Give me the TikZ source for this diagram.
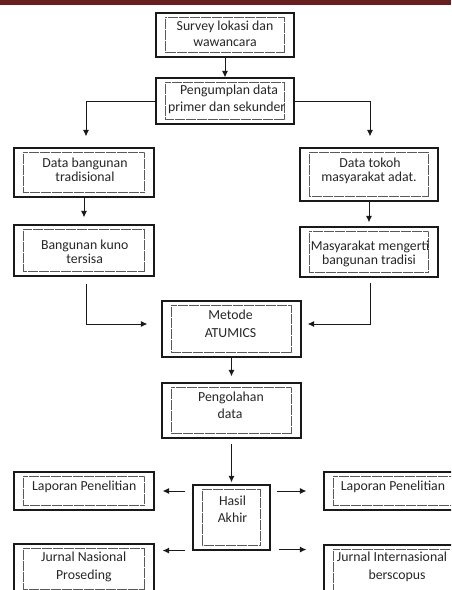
\documentclass[tikz,border=0pt]{standalone}
\usepackage{fontspec}
\setmainfont{Carlito}
\usetikzlibrary{arrows.meta}
\definecolor{band}{RGB}{106,30,30}
\newcommand{\dotin}[1]{\draw[dotbox] ([shift={(10,5)}]#1.north west) rectangle ([shift={(-10,-5)}]#1.south east);}
\begin{document}
\begin{tikzpicture}[x=1pt,y=-1pt,
  box/.style={draw=black!90, line width=1.1pt, rectangle, inner sep=0pt},
  dotbox/.style={draw=black!65, line width=0.55pt, dash pattern=on 0.5pt off 0.6pt},
  txt/.style={anchor=base, inner sep=0pt, font=\fontsize{13.8}{16}\selectfont, text=black!85},
  arr/.style={draw=black!90, line width=1pt, -{Latex[length=6.5pt,width=6pt]}}]
\useasboundingbox (0,0) rectangle (451,590);
\clip (0,0) rectangle (451,590);
\fill[band] (0,0) rectangle (451,5);
% boxes
\node[box, minimum width=138pt, minimum height=44pt] (b1) at (225,35) {};
\node[box, minimum width=138pt, minimum height=46pt] (b2) at (225,101) {};
\node[box, minimum width=140pt, minimum height=49pt] (b3) at (84,172.5) {};
\node[box, minimum width=138pt, minimum height=53pt] (b4) at (369,174.5) {};
\node[box, minimum width=140pt, minimum height=51pt] (b5) at (84,250.5) {};
\node[box, minimum width=138pt, minimum height=50pt] (b6) at (369,252) {};
\node[box, minimum width=139pt, minimum height=56pt] (b7) at (231.5,329) {};
\node[box, minimum width=139pt, minimum height=55pt] (b8) at (231.5,410.5) {};
\node[box, minimum width=77pt, minimum height=65pt] (b9) at (231.5,517.5) {};
\node[box, minimum width=140pt, minimum height=38pt] (b10) at (84,491) {};
\node[box, minimum width=140pt, minimum height=38pt] (b11) at (394,491) {};
\node[box, minimum width=140pt, minimum height=50pt] (b12) at (84,569) {};
\node[box, minimum width=140pt, minimum height=50pt] (b13) at (394,570) {};
\foreach \n in {b1,b2,b3,b4,b5,b6,b7,b8,b9,b10,b11,b12,b13} {\dotin{\n}}
% texts
\node[txt] (t1a) at (225,30) {Survey lokasi dan};
\node[txt] (t1b) at (225,46.7) {wawancara};
\node[txt] (t2a) at (229,94.3) {Pengumplan data};
\node[txt] (t2b) at (226.7,111.7) {primer dan sekunder};
\node[txt] (t3a) at (85,167.7) {Data bangunan};
\node[txt] (t3b) at (85,181.7) {tradisional};
\node[txt] (t4a) at (370,167.7) {Data tokoh};
\node[txt] (t4b) at (369,181.7) {masyarakat adat.};
\node[txt] (t5a) at (84.7,249.3) {Bangunan kuno};
\node[txt] (t5b) at (84.7,263.3) {tersisa};
\node[txt] (t6a) at (370,250) {Masyarakat mengerti};
\node[txt] (t6b) at (369,264) {bangunan tradisi};
\node[txt] (t7a) at (230.5,319.3) {Metode};
\node[txt] (t7b) at (230.5,337.3) {ATUMICS};
\node[txt] (t8a) at (231,401) {Pengolahan};
\node[txt] (t8b) at (230,418.3) {data};
\node[txt] (t9a) at (232.5,505) {Hasil};
\node[txt] (t9b) at (232.5,522.3) {Akhir};
\node[txt] (t10) at (84.2,490) {Laporan Penelitian};
\node[txt] (t11) at (393,490) {Laporan Penelitian};
\node[txt] (t12a) at (83.7,561.7) {Jurnal Nasional};
\node[txt] (t12b) at (83.8,579.3) {Proseding};
\node[txt] (t13a) at (392,561.7) {Jurnal Internasional};
\node[txt] (t13b) at (397,579.3) {berscopus};
% connectors
\draw[arr] (b1) -- (b2);
\draw[arr, shorten >=11pt] (b2.west) -| ([xshift=2pt]b3.north);
\draw[arr, shorten >=11pt] (b2.east) -| ([xshift=1pt]b4.north);
\draw[arr, shorten >=7pt] (b3) -- (b5);
\draw[arr, shorten >=4pt] (b4) -- (b6);
\draw[arr, shorten <=7pt, shorten >=14pt] ([xshift=2pt]b5.south) |- ([yshift=5pt]b7.west);
\draw[arr, shorten <=5pt, shorten >=6pt] ([xshift=1pt]b6.south) |- ([yshift=5pt]b7.east);
\draw[arr, shorten >=6pt] (b7) -- (b8);
\draw[arr, shorten <=5pt, shorten >=2pt] (b8) -- (b9);
\draw[arr, shorten <=7pt, shorten >=8pt] (b9.west |- b10.east) -- (b10.east);
\draw[arr, shorten <=6pt, shorten >=17pt] (b9.east |- b11.west) -- (b11.west);
\draw[arr, shorten <=7pt, shorten >=8pt] (b9.south west) -- (b9.south west -| b12.east);
\draw[arr, shorten <=8pt, shorten >=17pt] ([yshift=1pt]b9.south east) -- ([yshift=1pt]b9.south east -| b13.west);
\end{tikzpicture}
\end{document}
